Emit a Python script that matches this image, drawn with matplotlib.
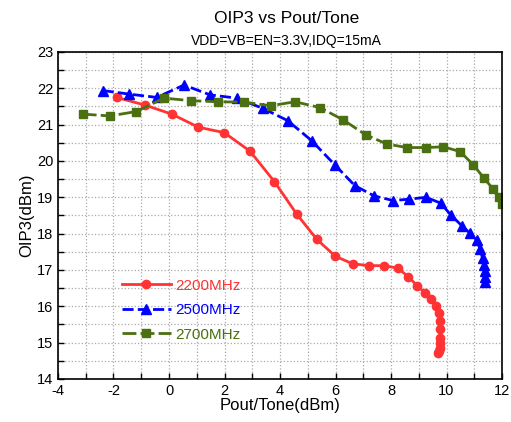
import matplotlib
matplotlib.use("Agg")
import matplotlib.pyplot as plt
from matplotlib.ticker import MultipleLocator

plt.rcParams['font.family'] = ['Liberation Sans', 'DejaVu Sans']
plt.rcParams['axes.unicode_minus'] = False

title = "OIP3 vs Pout/Tone"
subtitle = "VDD=VB=EN=3.3V,IDQ=15mA"
xlabel = "Pout/Tone(dBm)"
ylabel = "OIP3(dBm)"

labels = ["2200MHz", "2500MHz", "2700MHz"]

x_2200 = [-1.89, -0.87, 0.10, 1.06, 1.99, 2.92, 3.80, 4.60, 5.32, 5.99, 6.62, 7.21, 7.76,
          8.24, 8.62, 8.95, 9.23, 9.44, 9.61, 9.72, 9.77, 9.78, 9.78, 9.77, 9.75, 9.72, 9.70]
y_2200 = [21.75, 21.54, 21.29, 20.93, 20.78, 20.27, 19.43, 18.54, 17.85, 17.38, 17.17, 17.12, 17.12,
          17.05, 16.82, 16.56, 16.37, 16.19, 16.01, 15.82, 15.60, 15.37, 15.14, 15.00, 14.85, 14.76, 14.71]

x_2500 = [-2.39, -1.43, -0.44, 0.54, 1.48, 2.44, 3.38, 4.28, 5.14, 5.98, 6.70, 7.39, 8.08,
          8.66, 9.26, 9.79, 10.16, 10.55, 10.85, 11.09, 11.21, 11.30, 11.36, 11.38, 11.39, 11.39]
y_2500 = [21.94, 21.84, 21.75, 22.09, 21.82, 21.73, 21.45, 21.11, 20.56, 19.89, 19.32, 19.04, 18.91,
          18.95, 19.00, 18.84, 18.51, 18.22, 18.01, 17.83, 17.57, 17.32, 17.14, 16.98, 16.82, 16.68]

x_2700 = [-3.11, -2.13, -1.19, -0.18, 0.79, 1.75, 2.71, 3.66, 4.54, 5.44, 6.28, 7.09, 7.84,
          8.57, 9.25, 9.89, 10.49, 10.97, 11.36, 11.69, 11.90, 12.00, 12.15]
y_2700 = [21.29, 21.24, 21.36, 21.73, 21.66, 21.63, 21.62, 21.52, 21.63, 21.47, 21.13, 20.72, 20.47,
          20.37, 20.37, 20.39, 20.26, 19.89, 19.52, 19.22, 19.02, 18.81, 17.95]

fig = plt.figure(figsize=(5.11, 4.22), dpi=100)
ax = fig.add_axes([0.1135, 0.1019, 0.8689, 0.7749])

red = '#FF3333'
blue = '#0000FF'
green = '#4A7012'

ax.plot(x_2200, y_2200, color=red, lw=2, marker='o', ms=6, label=labels[0])
ax.plot(x_2500, y_2500, color=blue, lw=2, ls=(0, (4, 1.5)), marker='^', ms=7, label=labels[1])
ax.plot(x_2700, y_2700, color=green, lw=2, ls=(0, (5, 1.5)), marker='s', ms=5.5, label=labels[2])

ax.set_xlim(-4, 12)
ax.set_ylim(14, 23)
ax.xaxis.set_major_locator(MultipleLocator(2))
ax.xaxis.set_minor_locator(MultipleLocator(1))
ax.yaxis.set_major_locator(MultipleLocator(1))
ax.yaxis.set_minor_locator(MultipleLocator(0.5))
ax.tick_params(which='both', direction='in', labelsize=10.5, width=1, color='black')
ax.tick_params(which='major', length=4)
ax.tick_params(which='minor', length=4)
ax.grid(which='both', color='#aaaaaa', ls=':', lw=0.9)
for s in ax.spines.values():
    s.set_linewidth(1.2)

ax.set_xlabel(xlabel, fontsize=12, labelpad=0)
ax.set_ylabel(ylabel, fontsize=12, labelpad=2)

fig.text(0.56, 0.955, title, ha='center', va='center', fontsize=12.5)
fig.text(0.56, 0.903, subtitle, ha='center', va='center', fontsize=10)

leg = ax.legend(loc='upper left', bbox_to_anchor=(0.13, 0.325), frameon=False, fontsize=11,
                handlelength=3.2, handletextpad=0.3, labelspacing=0.68, borderaxespad=0)
for t, c in zip(leg.get_texts(), [red, blue, green]):
    t.set_color(c)

fig.savefig("out.png", dpi=100)
